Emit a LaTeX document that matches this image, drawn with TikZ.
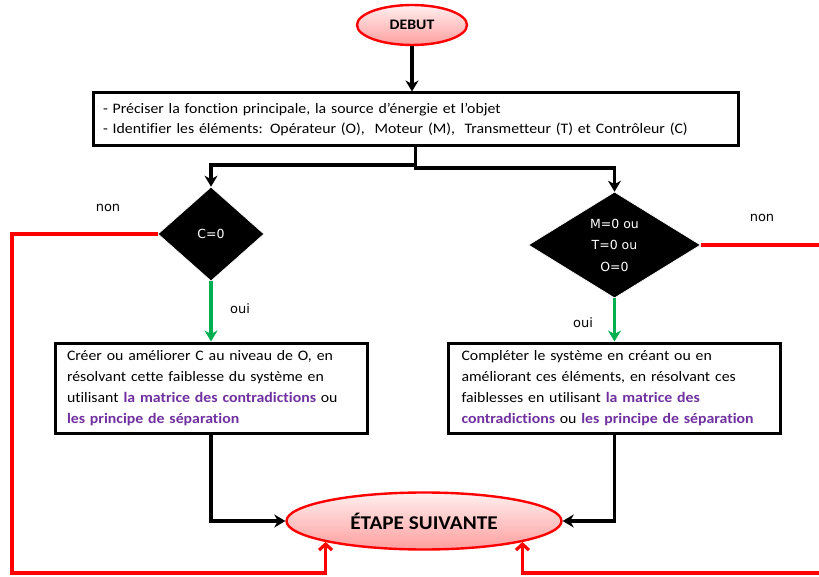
\documentclass[tikz,border=0pt]{standalone}
\usepackage{fontspec}
\setmainfont{Carlito}[FakeStretch=1.09, Ligatures=NoCommon]
\newfontfamily\verd{DejaVu Sans}
\usetikzlibrary{shapes.geometric,arrows.meta,calc}
\definecolor{purp}{HTML}{7030A0}
\definecolor{grn}{HTML}{00B050}
\newcommand{\pu}[1]{\textcolor{purp}{\bfseries #1}}
\begin{document}
\begin{tikzpicture}[x=1pt,y=-1pt,
  startend/.style={ellipse, draw=red, line width=2.4pt, top color=red!6, bottom color=red!38, inner sep=0pt},
  box/.style={draw=black, line width=3pt, fill=white, align=left, inner sep=0pt},
  dec/.style={diamond, fill=black, draw=white, line width=0.6pt, text=white, align=center, inner sep=0pt, aspect=1.6, font=\verd\fontsize{12.5}{21.5}\selectfont},
  lab/.style={font=\verd\fontsize{13}{15}\selectfont, inner sep=0pt},
  bline/.style={draw=black, line width=3.2pt},
  barrow/.style={bline, -{Stealth[length=11pt,width=13pt,inset=3.5pt]}},
  garrow/.style={draw=grn, line width=3.2pt, -{Stealth[length=11pt,width=13pt,inset=3.5pt]}},
  rline/.style={draw=red, line width=3.2pt},
  rarrow/.style={rline, -{Straight Barb[length=6pt,width=13pt]}}
]
\useasboundingbox (0,0) rectangle (819,577);

\node[startend, minimum width=110pt, minimum height=40pt, font=\bfseries\fontsize{14.5}{18}\selectfont] (debut) at (412,25) {DEBUT};

\node[box, minimum width=645pt, minimum height=53pt, text width=625pt, font=\fontsize{14.5}{20}\selectfont] (top) at (415.5,119.5)
 {- Préciser la fonction principale, la source d’énergie et l’objet\\
  - Identifier les éléments: Opérateur (O),\ \ Moteur (M),\ \ Transmetteur (T) et Contrôleur (C)};

\node[dec, minimum width=106pt, minimum height=94pt] (d1) at (211,234) {C=0};
\node[dec, minimum width=172pt, minimum height=106pt] (d2) at (614.5,245) {M=0 ou\\T=0 ou\\O=0};

\node[box, minimum width=312pt, minimum height=90pt, text width=288pt, font=\fontsize{14.5}{21}\selectfont] (b1) at (211,388)
 {Créer ou améliorer C au niveau de O, en\\
  résolvant cette faiblesse du système en\\
  utilisant \pu{la matrice des contradictions} ou\\
  \pu{les principe de séparation}};

\node[box, minimum width=332pt, minimum height=90pt, text width=306pt, font=\fontsize{14.5}{21}\selectfont] (b2) at (614.5,388)
 {Compléter le système en créant ou en\\
  améliorant ces éléments, en résolvant ces\\
  faiblesses en utilisant \pu{la matrice des}\\
  \pu{contradictions} ou \pu{les principe de séparation}};

\node[startend, minimum width=275pt, minimum height=57pt, font=\bfseries\fontsize{19.5}{22}\selectfont] (etape) at (424,521) {ÉTAPE SUIVANTE};

\node[lab] (non1) at (108,208) {non};
\node[lab] (non2) at (762,218) {non};
\node[lab] (oui1) at (240,309) {oui};
\node[lab] (oui2) at (583,323) {oui};

\coordinate (j1) at (415.5,165);
\coordinate (j2) at (415.5,168);
\coordinate (lc) at (12,234);
\coordinate (lb) at (12,573);
\coordinate (re) at (819,245);
\coordinate (rb) at (819,573);

\draw[barrow] (debut.south) -- (debut.south |- top.north);
\draw[barrow] (top.south) -- (j1) -| (d1.north);
\draw[barrow] (j1) -- (j2) -| (d2.north);

\draw[garrow] (d1.south) -- (b1.north);
\draw[garrow] (d2.south) -- (b2.north);

\draw[barrow] (b1.south) |- (etape.west);
\draw[barrow] (b2.south) |- (etape.east);

\draw[rarrow] (d1.west) -- (lc) -- (lb) -| (etape.192);
\draw[rline] (d2.east) -- (re);
\draw[rarrow] (rb) -| (etape.348);
\end{tikzpicture}
\end{document}
